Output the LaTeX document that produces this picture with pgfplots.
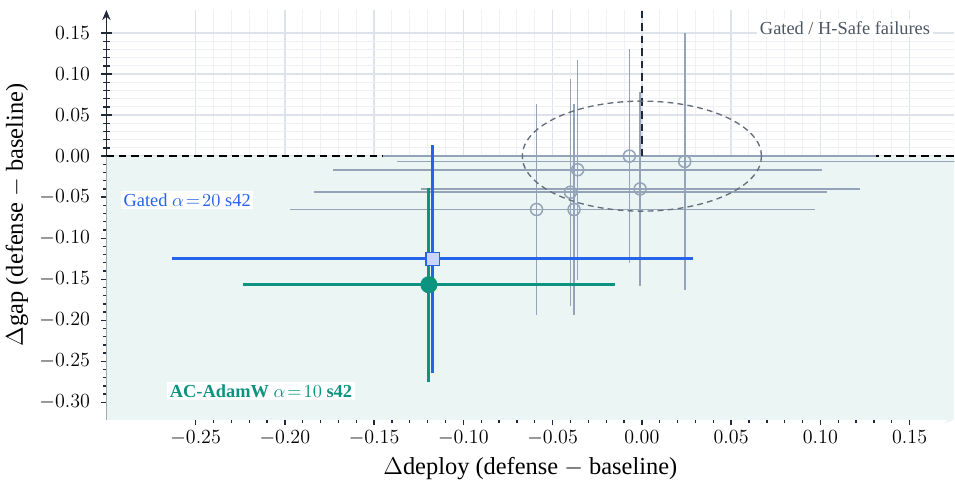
\documentclass[border=0pt]{standalone}
\usepackage{pgfplots}
\usepackage{pgfplotstable}
\pgfplotsset{compat=1.18}
\usepackage[no-math]{fontspec}
\setmainfont{Liberation Serif}
\usetikzlibrary{arrows.meta}

\definecolor{goodregion}{RGB}{235,245,243}
\definecolor{fail}{RGB}{148,163,184}
\definecolor{slatetext}{RGB}{75,85,99}
\definecolor{ellipsecol}{RGB}{100,110,125}
\definecolor{gatedblue}{RGB}{37,99,235}
\definecolor{gatedfill}{RGB}{199,214,250}
\definecolor{acgreen}{RGB}{13,148,128}
\definecolor{axisdark}{RGB}{31,41,55}
\definecolor{gridmaj}{RGB}{222,226,234}
\definecolor{gridmin}{RGB}{238,240,245}

% Gated / H-Safe failure runs: delta deploy, delta gap, half widths
\pgfplotstableread{
x       y        ex      ey
-0.007   0.000   0.138   0.130
 0.024  -0.0065  0.161   0.157
-0.036  -0.0166  0.137   0.134
-0.040  -0.044   0.1436  0.138
-0.001  -0.040   0.123   0.118
-0.059  -0.065   0.138   0.128
-0.038  -0.065   0.135   0.128
}\failures

\begin{document}
\begin{tikzpicture}
\begin{axis}[
  width=507.2pt, height=245pt, scale only axis,
  xmin=-0.30, xmax=0.175, ymin=-0.321, ymax=0.178,
  axis lines=left,
  axis line style={axisdark, line width=0.9pt, -{Stealth[length=6pt,width=5pt]}},
  x axis line style={goodregion},
  xtick={-0.25,-0.2,-0.15,-0.1,-0.05,0,0.05,0.1,0.15},
  ytick={-0.3,-0.25,-0.2,-0.15,-0.1,-0.05,0,0.05,0.1,0.15},
  minor tick num=4,
  tick align=center,
  major tick length=6.5pt, minor tick length=4pt,
  tick style={axisdark, line width=0.8pt},
  grid=both,
  major grid style={gridmaj, line width=0.8pt},
  minor grid style={gridmin, line width=0.6pt},
  xticklabel style={/pgf/number format/.cd, fixed, fixed zerofill, precision=2},
  yticklabel style={xshift=-3pt, /pgf/number format/.cd, fixed, fixed zerofill, precision=2},
  ticklabel style={font=\fontsize{12}{14}\selectfont},
  label style={font=\fontsize{14.6}{17}\selectfont},
  xlabel={$\Delta$deploy (defense $-$ baseline)},
  ylabel={$\Delta$gap (defense $-$ baseline)},
]
% region where the defense closes the gap
\fill[goodregion] (axis cs:-0.30,-0.321) rectangle (axis cs:0.175,0);
\draw[black, line width=0.8pt, dash pattern=on 4.5pt off 3pt] (axis cs:-0.30,0) -- (axis cs:0.175,0);

\addplot[fail, only marks, mark=o, mark size=3.6pt, mark options={line width=0.9pt},
  error bars/.cd, x dir=both, x explicit, y dir=both, y explicit,
  error bar style={line width=1pt}, error mark=none]
  table[x=x, y=y, x error=ex, y error=ey] {\failures};

\draw[axisdark, line width=1.3pt, dash pattern=on 4.5pt off 3pt] (axis cs:0,0) -- (axis cs:0,0.178);
\draw[ellipsecol, line width=0.8pt, dash pattern=on 3.5pt off 2.5pt] (axis cs:0,0) ellipse [x radius=0.067, y radius=0.067];

\addplot[gatedblue, only marks, mark=square*, mark size=4pt,
  mark options={fill=gatedfill, draw=gatedblue, line width=0.8pt},
  error bars/.cd, x dir=both, x explicit, y dir=both, y explicit,
  error bar style={line width=1.8pt}, error mark=none]
  coordinates {(-0.1172,-0.1253) +- (0.1458,0.1385)};

\addplot[acgreen, only marks, mark=*, mark size=4.9pt,
  mark options={fill=acgreen, draw=acgreen},
  error bars/.cd, x dir=both, x explicit, y dir=both, y explicit,
  error bar style={line width=1.8pt}, error mark=none]
  coordinates {(-0.1193,-0.1567) +- (0.1042,0.118)};

\addplot[gatedblue, only marks, mark=square*, mark size=4pt,
  mark options={fill=gatedfill, draw=gatedblue, line width=0.8pt}]
  coordinates {(-0.1172,-0.1253)};

\node[anchor=east, fill=white, inner sep=1.5pt, text=slatetext, font=\fontsize{11}{13}\selectfont]
  at (axis cs:0.163,0.156) {Gated / H-Safe failures};
\node[anchor=west, fill=white, inner sep=1.5pt, text=gatedblue, font=\fontsize{11}{13}\selectfont]
  at (axis cs:-0.2919,-0.054) {Gated $\alpha\!=\!20$ s42};
\node[anchor=west, fill=white, inner sep=1.5pt, text=acgreen, font=\fontsize{11}{13}\selectfont]
  at (axis cs:-0.266,-0.2866) {\textbf{AC-AdamW} $\alpha\!=\!10$ \textbf{s42}};
\end{axis}
\path ([yshift=6pt]current axis.north west);
\end{tikzpicture}
\end{document}
